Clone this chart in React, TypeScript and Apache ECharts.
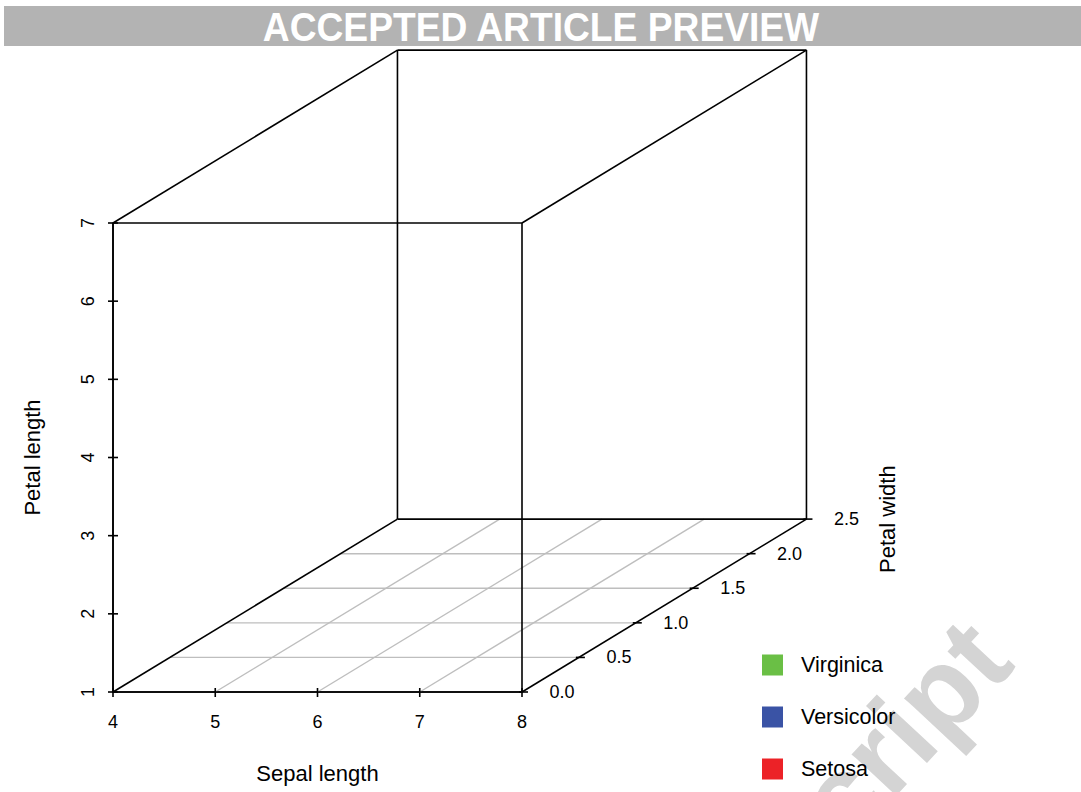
import React, { useEffect, useRef } from "react";
import * as echarts from "echarts";

// Axis ticks
const X_TICKS = [4, 5, 6, 7, 8]; // Sepal length
const Z_TICKS = [1, 2, 3, 4, 5, 6, 7]; // Petal length
const W_TICKS = [0, 0.5, 1, 1.5, 2, 2.5]; // Petal width (depth)
const W_LABELS = ["0.0", "0.5", "1.0", "1.5", "2.0", "2.5"];

// Legend
const SPECIES = ["Virginica", "Versicolor", "Setosa"];
const SPECIES_COLORS = ["#6abf45", "#3a53a5", "#ec2227"];
// No points are drawn in the reference
const VIRGINICA: number[][] = [];
const VERSICOLOR: number[][] = [];
const SETOSA: number[][] = [];

const TITLE = "ACCEPTED ARTICLE PREVIEW";
const FONT = '"Liberation Sans", Arial, Helvetica, sans-serif';

export default function App() {
  const ref = useRef<HTMLDivElement>(null);
  useEffect(() => {
    if (!ref.current) return;
    const chart = echarts.init(ref.current, null, { renderer: "svg" });
    const xMin = X_TICKS[0];
    const xMax = X_TICKS[X_TICKS.length - 1];
    const zMin = Z_TICKS[0];
    const zMax = Z_TICKS[Z_TICKS.length - 1];
    const wMin = W_TICKS[0];
    const wMax = W_TICKS[W_TICKS.length - 1];
    // oblique projection of the depth axis, in data units of x and z for the full depth
    const DEPTH_DX = 2.782;
    const DEPTH_DZ = 2.212;

    const renderItem = (params: any, api: any) => {
      const proj = (x: number, z: number, w: number) => {
        const f = (w - wMin) / (wMax - wMin);
        return api.coord([x + f * DEPTH_DX, z + f * DEPTH_DZ]);
      };
      const ln = (a: number[], b: number[], stroke: string, lw: number) => ({
        type: "line",
        shape: { x1: a[0], y1: a[1], x2: b[0], y2: b[1] },
        style: { stroke, lineWidth: lw },
      });
      const children: any[] = [];
      const GRAY = "#bebebe";
      const BLACK = "#000";
      // floor grid
      W_TICKS.slice(1, -1).forEach((w) => {
        children.push(ln(proj(xMin, zMin, w), proj(xMax, zMin, w), GRAY, 1.4));
      });
      X_TICKS.slice(1, -1).forEach((x) => {
        children.push(ln(proj(x, zMin, wMin), proj(x, zMin, wMax), GRAY, 1.4));
      });
      // box
      [wMin, wMax].forEach((w) => {
        children.push(ln(proj(xMin, zMin, w), proj(xMax, zMin, w), BLACK, 1.6));
        children.push(ln(proj(xMin, zMax, w), proj(xMax, zMax, w), BLACK, 1.6));
        children.push(ln(proj(xMin, zMin, w), proj(xMin, zMax, w), BLACK, 1.6));
        children.push(ln(proj(xMax, zMin, w), proj(xMax, zMax, w), BLACK, 1.6));
      });
      [
        [xMin, zMin],
        [xMax, zMin],
        [xMin, zMax],
        [xMax, zMax],
      ].forEach(([x, z]) => {
        children.push(ln(proj(x, z, wMin), proj(x, z, wMax), BLACK, 1.6));
      });
      // ticks
      X_TICKS.forEach((x) => {
        const p = proj(x, zMin, wMin);
        children.push(ln([p[0], p[1] - 4], [p[0], p[1] + 5], BLACK, 1.6));
      });
      Z_TICKS.forEach((z) => {
        const p = proj(xMin, z, wMin);
        children.push(ln([p[0] - 5, p[1]], [p[0] + 5, p[1]], BLACK, 1.6));
      });
      W_TICKS.forEach((w, i) => {
        const p = proj(xMax, zMin, w);
        children.push(ln([p[0] - 3, p[1]], [p[0] + 6, p[1]], BLACK, 1.6));
        children.push({
          type: "text",
          x: p[0] + 40,
          y: p[1],
          style: {
            text: W_LABELS[i],
            fill: "#000",
            fontSize: 18,
            fontFamily: FONT,
            align: "center",
            verticalAlign: "middle",
          },
        });
      });
      const pw = proj(xMax, zMin, wMax);
      children.push({
        type: "text",
        x: pw[0] + 81,
        y: pw[1],
        rotation: Math.PI / 2,
        style: {
          text: "Petal width",
          fill: "#000",
          fontSize: 22,
          fontFamily: FONT,
          align: "center",
          verticalAlign: "middle",
        },
      });
      return { type: "group", children };
    };

    chart.setOption({
      animation: false,
      backgroundColor: "#fff",
      textStyle: { fontFamily: FONT },
      grid: { left: 113, right: 559, top: 223, bottom: 100, containLabel: false },
      xAxis: {
        type: "value",
        min: xMin,
        max: xMax,
        interval: 1,
        name: "Sepal length",
        nameLocation: "middle",
        nameGap: 70,
        nameTextStyle: { fontSize: 22, color: "#000", fontFamily: FONT },
        axisLine: { show: true, lineStyle: { color: "#000", width: 1.6 } },
        axisTick: { show: false },
        splitLine: { show: false },
        axisLabel: { fontSize: 18, color: "#000", margin: 21, fontFamily: FONT },
      },
      yAxis: {
        type: "value",
        min: zMin,
        max: zMax,
        interval: 1,
        name: "Petal length",
        nameLocation: "middle",
        nameGap: 70,
        nameTextStyle: { fontSize: 22, color: "#000", fontFamily: FONT },
        axisLine: { show: true, lineStyle: { color: "#000", width: 1.6 } },
        axisTick: { show: false },
        splitLine: { show: false },
        axisLabel: { fontSize: 18, color: "#000", margin: 16, rotate: 90, fontFamily: FONT },
      },
      legend: {
        orient: "vertical",
        left: 762,
        top: 654,
        padding: 0,
        itemWidth: 21,
        itemHeight: 21,
        itemGap: 30,
        icon: "rect",
        data: SPECIES,
        selectedMode: false,
        itemStyle: { opacity: 1 },
        textStyle: {
          fontSize: 21.5,
          color: "#000",
          fontFamily: FONT,
          lineHeight: 21,
          padding: [0, 0, 0, 13],
        },
      },
      graphic: [
        {
          type: "text",
          x: 1030,
          y: 678,
          rotation: 0.82,
          z: 0,
          style: {
            text: "Manuscript",
            fill: "#d4d4d4",
            font: `bold 115px ${FONT}`,
            align: "right",
            verticalAlign: "bottom",
          },
        },
        {
          type: "rect",
          shape: { x: 4, y: 6, width: 1077, height: 40 },
          style: { fill: "#b3b3b3" },
          z: 10,
        },
        {
          type: "text",
          x: 541,
          y: 27,
          scaleX: 0.93,
          z: 11,
          style: {
            text: TITLE,
            fill: "#fff",
            font: `bold 40px ${FONT}`,
            align: "center",
            verticalAlign: "middle",
          },
        },
      ],
      series: [
        {
          type: "custom",
          name: "box",
          clip: false,
          silent: true,
          z: 2,
          data: [[xMin, zMin]],
          renderItem,
        },
        { type: "scatter", name: SPECIES[0], data: VIRGINICA, itemStyle: { color: SPECIES_COLORS[0], opacity: 1 } },
        { type: "scatter", name: SPECIES[1], data: VERSICOLOR, itemStyle: { color: SPECIES_COLORS[1], opacity: 1 } },
        { type: "scatter", name: SPECIES[2], data: SETOSA, itemStyle: { color: SPECIES_COLORS[2], opacity: 1 } },
      ],
    });
    return () => chart.dispose();
  }, []);
  return (
    <div
      ref={ref}
      style={{ position: "absolute", left: 0, top: 0, width: 1081, height: 792 }}
    />
  );
}
